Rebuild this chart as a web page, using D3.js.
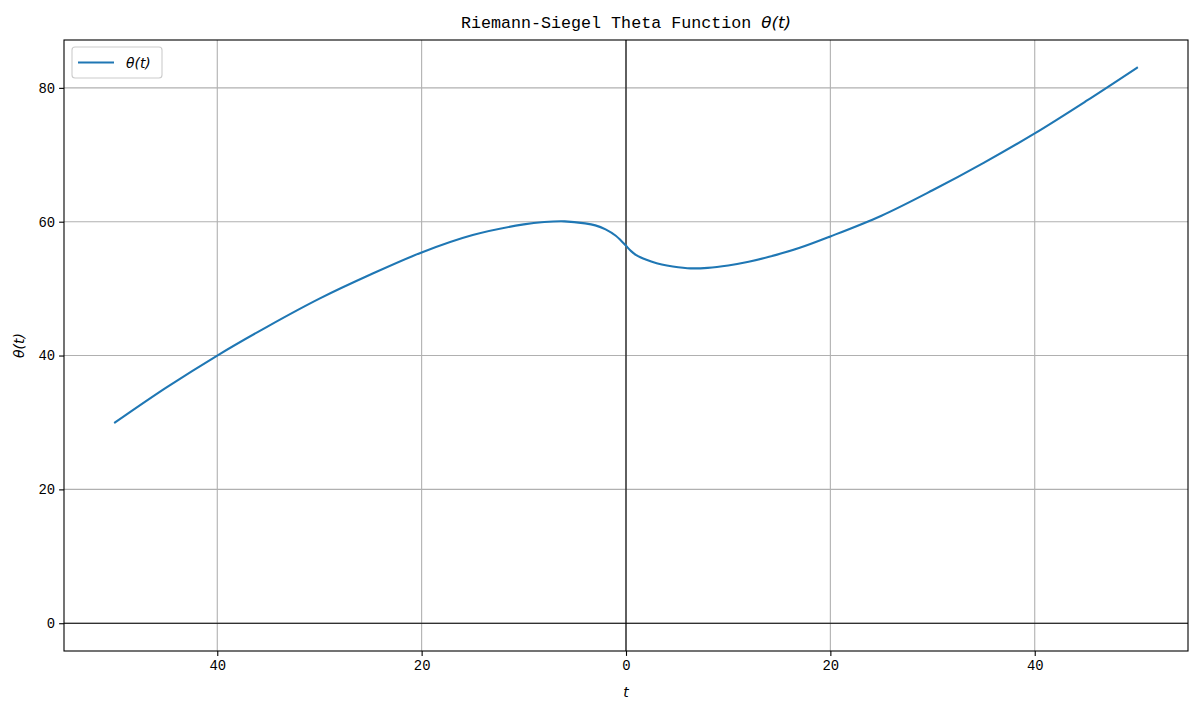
<!DOCTYPE html>
<html>
<head>
<meta charset="utf-8">
<script src="https://cdn.jsdelivr.net/npm/d3@7"></script>
<style>
  body { margin: 0; background: #fff; }
  svg { display: block; }
</style>
</head>
<body>
<svg id="chart" width="1200" height="714"></svg>
<script>
// curve values
var tValues = [-50, -45, -40, -35, -30, -25, -20, -15, -10, -8, -6, -4, -3, -2, -1, -0.5, 0, 0.5, 1, 2, 3, 4, 6, 8, 10, 12, 14, 17, 20, 25, 30, 35, 40, 45, 50]
var thetaValues = [30.0, 35.2, 40.0, 44.4, 48.5, 52.1, 55.4, 58.0, 59.6, 59.95, 60.05, 59.75, 59.45, 58.85, 57.9, 57.2, 56.4, 55.6, 55.0, 54.3, 53.8, 53.45, 53.05, 53.1, 53.45, 54.0, 54.75, 56.1, 57.8, 60.9, 64.7, 68.8, 73.2, 78.0, 83.0]
var xTicks = [-40, -20, 0, 20, 40]
var xTickLabels = ["40", "20", "0", "20", "40"]
var yTicks = [0, 20, 40, 60, 80]
var yTickLabels = ["0", "20", "40", "60", "80"]

var tickFont = "'Liberation Mono', 'DejaVu Sans Mono', monospace"
var mathFont = "'DejaVu Sans', sans-serif"

var svg = d3.select("#chart")
var axLeft = 64, axRight = 1188, axTop = 40, axBottom = 651

var xScale = d3.scaleLinear().domain([-55, 55]).range([axLeft, axRight])
var yScale = d3.scaleLinear().domain([-4.15, 87.15]).range([axBottom, axTop])

// grid
svg.append("g")
  .selectAll("line")
  .data(xTicks)
  .enter()
  .append("line")
  .attr("x1", function (d) { return xScale(d) }).attr("x2", function (d) { return xScale(d) })
  .attr("y1", axTop).attr("y2", axBottom)
  .style("stroke", "#b0b0b0").style("stroke-width", 1.1)

svg.append("g")
  .selectAll("line")
  .data(yTicks)
  .enter()
  .append("line")
  .attr("x1", axLeft).attr("x2", axRight)
  .attr("y1", function (d) { return yScale(d) }).attr("y2", function (d) { return yScale(d) })
  .style("stroke", "#b0b0b0").style("stroke-width", 1.1)

// zero lines
svg.append("line")
  .attr("x1", axLeft).attr("x2", axRight)
  .attr("y1", yScale(0)).attr("y2", yScale(0))
  .style("stroke", "#000").style("stroke-width", 1.1)
svg.append("line")
  .attr("x1", xScale(0)).attr("x2", xScale(0))
  .attr("y1", axTop).attr("y2", axBottom)
  .style("stroke", "#000").style("stroke-width", 1.1)

// curve
var line = d3.line()
  .x(function (d, i) { return xScale(tValues[i]) })
  .y(function (d) { return yScale(d) })
  .curve(d3.curveCatmullRom.alpha(0.5))

svg.append("path")
  .datum(thetaValues)
  .attr("d", line)
  .style("fill", "none")
  .style("stroke", "#1f77b4")
  .style("stroke-width", 2.1)
  .style("stroke-linecap", "square")

// axes
var xAxis = d3.axisBottom(xScale).tickValues(xTicks)
  .tickFormat(function (d, i) { return xTickLabels[i] })
  .tickSize(4.9).tickPadding(4)
var yAxis = d3.axisLeft(yScale).tickValues(yTicks)
  .tickFormat(function (d, i) { return yTickLabels[i] })
  .tickSize(4.9).tickPadding(4)

var gx = svg.append("g").attr("transform", "translate(0," + axBottom + ")").call(xAxis)
var gy = svg.append("g").attr("transform", "translate(" + axLeft + ",0)").call(yAxis)
;[gx, gy].forEach(function (g) {
  g.select(".domain").remove()
  g.selectAll(".tick line").style("stroke", "#000").style("stroke-width", 1.1)
  g.selectAll(".tick text")
    .style("font-family", tickFont)
    .style("font-size", "13.9px")
    .style("fill", "#000")
})

// frame
svg.append("rect")
  .attr("x", axLeft).attr("y", axTop)
  .attr("width", axRight - axLeft).attr("height", axBottom - axTop)
  .style("fill", "none").style("stroke", "#000").style("stroke-width", 1.1)

// title
var title = svg.append("text")
  .attr("x", (axLeft + axRight) / 2)
  .attr("y", 28)
  .attr("text-anchor", "middle")
  .style("font-size", "16.7px")
title.append("tspan").style("font-family", tickFont).text("Riemann-Siegel Theta Function ")
title.append("tspan").style("font-family", mathFont).style("font-style", "italic").text("θ(t)")

// axis labels
svg.append("text")
  .attr("x", xScale(0))
  .attr("y", 697)
  .attr("text-anchor", "middle")
  .style("font-family", mathFont)
  .style("font-style", "italic")
  .style("font-size", "13.9px")
  .text("t")

svg.append("text")
  .attr("text-anchor", "middle")
  .attr("transform", "translate(24," + ((axTop + axBottom) / 2) + ")rotate(-90)")
  .style("font-family", mathFont)
  .style("font-style", "italic")
  .style("font-size", "13.9px")
  .text("θ(t)")

// legend
var lg = svg.append("g")
lg.append("rect")
  .attr("x", 72).attr("y", 47)
  .attr("width", 90).attr("height", 31)
  .attr("rx", 3)
  .style("fill", "#fff").style("fill-opacity", 0.8)
  .style("stroke", "#cccccc").style("stroke-width", 1.1)
lg.append("line")
  .attr("x1", 78).attr("x2", 114)
  .attr("y1", 62.5).attr("y2", 62.5)
  .style("stroke", "#1f77b4").style("stroke-width", 2.1)
lg.append("text")
  .attr("x", 126).attr("y", 67.5)
  .style("font-family", mathFont)
  .style("font-style", "italic")
  .style("font-size", "13.9px")
  .text("θ(t)")
</script>
</body>
</html>
